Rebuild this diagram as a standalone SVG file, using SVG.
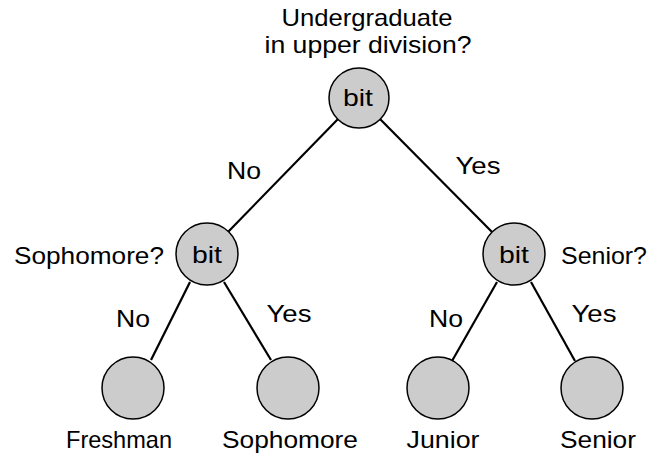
<svg xmlns="http://www.w3.org/2000/svg" width="666" height="454" viewBox="0 0 666 454">
<style>
text{font-family:"Liberation Sans",Arial,Helvetica,sans-serif;font-size:24px;fill:#000;text-anchor:middle}
.c{fill:#cccccc;stroke:#000;stroke-width:1.5}
.e{stroke:#000;stroke-width:2.2;fill:none}
</style>
<rect width="666" height="454" fill="#fff"/>
<g id="connectors">
<line class="e" x1="338" y1="119" x2="228" y2="232"/>
<line class="e" x1="380" y1="119" x2="492" y2="232"/>
<line class="e" x1="190" y1="282" x2="151" y2="360"/>
<line class="e" x1="224" y1="282" x2="271" y2="360"/>
<line class="e" x1="497" y1="282" x2="452" y2="361"/>
<line class="e" x1="531" y1="282" x2="575" y2="361"/>
</g>
<g id="n_root"><circle class="c" cx="359" cy="98" r="30"/><text x="358" y="106" textLength="30" lengthAdjust="spacingAndGlyphs">bit</text></g>
<g id="n_left"><circle class="c" cx="207" cy="254" r="31"/><text x="207" y="263" textLength="30" lengthAdjust="spacingAndGlyphs">bit</text></g>
<g id="n_right"><circle class="c" cx="514" cy="254" r="31"/><text x="514" y="263" textLength="30" lengthAdjust="spacingAndGlyphs">bit</text></g>
<g id="n_freshman"><circle class="c" cx="133" cy="388" r="31"/></g>
<g id="n_sophomore"><circle class="c" cx="288" cy="388" r="31"/></g>
<g id="n_junior"><circle class="c" cx="438" cy="388" r="31"/></g>
<g id="n_senior"><circle class="c" cx="592" cy="388" r="31"/></g>
<g id="labels">
<text x="367" y="26" textLength="171" lengthAdjust="spacingAndGlyphs">Undergraduate</text>
<text x="368" y="53" textLength="207" lengthAdjust="spacingAndGlyphs">in upper division?</text>
<text x="244" y="179" textLength="34" lengthAdjust="spacingAndGlyphs">No</text>
<text x="478" y="174" textLength="45" lengthAdjust="spacingAndGlyphs">Yes</text>
<text x="89" y="264" textLength="150" lengthAdjust="spacingAndGlyphs">Sophomore?</text>
<text x="604" y="264" textLength="86" lengthAdjust="spacingAndGlyphs">Senior?</text>
<text x="133" y="327" textLength="34" lengthAdjust="spacingAndGlyphs">No</text>
<text x="289" y="322" textLength="45" lengthAdjust="spacingAndGlyphs">Yes</text>
<text x="446" y="327" textLength="34" lengthAdjust="spacingAndGlyphs">No</text>
<text x="594" y="322" textLength="45" lengthAdjust="spacingAndGlyphs">Yes</text>
<text x="119" y="448" textLength="106" lengthAdjust="spacingAndGlyphs">Freshman</text>
<text x="290" y="448" textLength="136" lengthAdjust="spacingAndGlyphs">Sophomore</text>
<text x="443" y="448" textLength="73" lengthAdjust="spacingAndGlyphs">Junior</text>
<text x="598" y="448" textLength="76" lengthAdjust="spacingAndGlyphs">Senior</text>
</g>
</svg>
